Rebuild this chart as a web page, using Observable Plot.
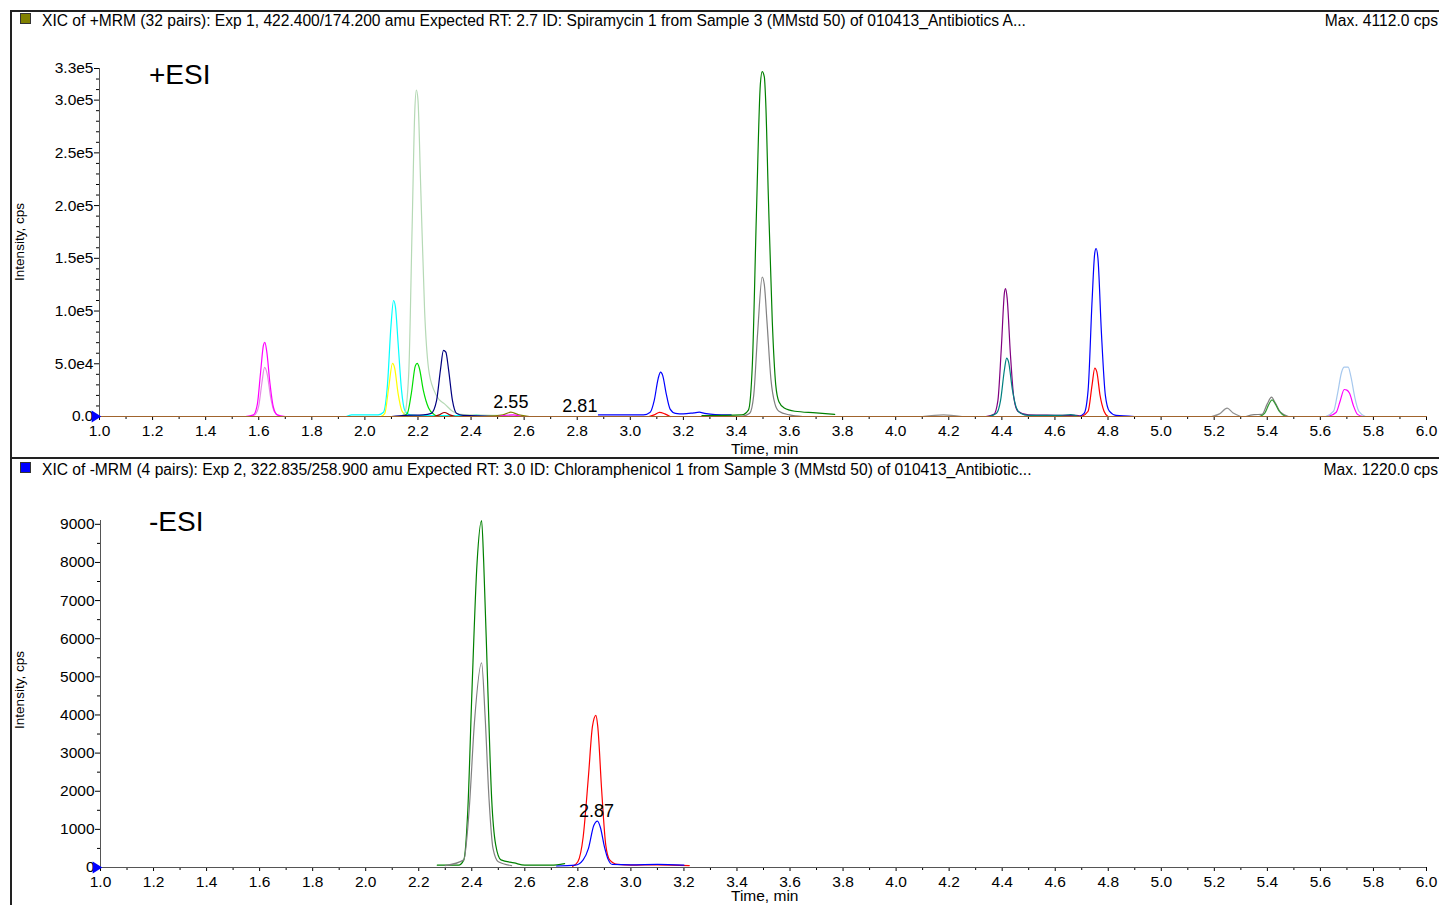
<!DOCTYPE html>
<html>
<head>
<meta charset="utf-8">
<script src="https://cdn.jsdelivr.net/npm/d3@7"></script>
<script src="https://cdn.jsdelivr.net/npm/@observablehq/plot@0.6"></script>
<style>
  html, body { margin: 0; padding: 0; background: #fff; }
  #page { position: relative; width: 1439px; height: 905px; overflow: hidden; background: #fff;
          font-family: "Liberation Sans", Arial, sans-serif; color: #000; }
  .abs { position: absolute; white-space: nowrap; }
  .hdr { font-size: 15.6px; line-height: 17px; }
  .sq { position: absolute; width: 9px; height: 9px; border: 1px solid #333; }
  .rot { transform: translate(-50%, -50%) rotate(-90deg); font-size: 13.5px; }
  svg { position: absolute; left: 0; overflow: visible; }
</style>
</head>
<body>
<div id="page">
  <div class="abs" style="left:10px;top:10px;width:2px;height:895px;background:#222"></div>
  <div class="abs" style="left:10px;top:10px;width:1429px;height:2px;background:#222"></div>
  <div class="abs" style="left:10px;top:457px;width:1429px;height:2px;background:#222"></div>

  <div class="sq" style="left:20px;top:13px;background:#808000"></div>
  <div class="abs hdr" id="title1" style="left:42px;top:12px">XIC of +MRM (32 pairs): Exp 1, 422.400/174.200 amu Expected RT: 2.7 ID: Spiramycin 1 from Sample 3 (MMstd 50) of 010413_Antibiotics A...</div>
  <div class="abs hdr" style="right:1px;top:12px">Max. 4112.0 cps</div>

  <div class="sq" style="left:20px;top:462px;background:#0000ff"></div>
  <div class="abs hdr" id="title2" style="left:42px;top:461px">XIC of -MRM (4 pairs): Exp 2, 322.835/258.900 amu Expected RT: 3.0 ID: Chloramphenicol 1 from Sample 3 (MMstd 50) of 010413_Antibiotic...</div>
  <div class="abs hdr" style="right:1px;top:461px">Max. 1220.0 cps</div>

  <div class="abs" style="left:149px;top:59px;font-size:28px;line-height:32px">+ESI</div>
  <div class="abs" style="left:149px;top:506px;font-size:28px;line-height:32px">-ESI</div>

  <div class="abs rot" style="left:19px;top:242px">Intensity, cps</div>
  <div class="abs rot" style="left:19px;top:690px">Intensity, cps</div>

  <div class="abs" style="left:731px;top:440px;font-size:15.5px;line-height:18px">Time, min</div>
  <div class="abs" style="left:731px;top:887px;font-size:15.5px;line-height:18px">Time, min</div>

  <div id="top"></div>
  <div id="bottom"></div>
</div>
<script>
// ---------- axis ticks ----------
const xTickLabels = [1.0, 1.2, 1.4, 1.6, 1.8, 2.0, 2.2, 2.4, 2.6, 2.8, 3.0, 3.2, 3.4, 3.6, 3.8, 4.0, 4.2, 4.4, 4.6, 4.8, 5.0, 5.2, 5.4, 5.6, 5.8, 6.0];
const xMinorTicks = [1.1, 1.3, 1.5, 1.7, 1.9, 2.1, 2.3, 2.5, 2.7, 2.9, 3.1, 3.3, 3.5, 3.7, 3.9, 4.1, 4.3, 4.5, 4.7, 4.9, 5.1, 5.3, 5.5, 5.7, 5.9];
const yTopTicks = [0, 50000, 100000, 150000, 200000, 250000, 300000, 330000];
const yTopMinor = [10000, 20000, 30000, 40000, 60000, 70000, 80000, 90000, 110000, 120000, 130000, 140000, 160000, 170000, 180000, 190000, 210000, 220000, 230000, 240000, 260000, 270000, 280000, 290000, 310000, 320000];
const yBotTicks = [0, 1000, 2000, 3000, 4000, 5000, 6000, 7000, 8000, 9000];
const yBotMinor = [500, 1500, 2500, 3500, 4500, 5500, 6500, 7500, 8500];

// ---------- +ESI traces: [time (min), intensity (cps)] ----------
const magenta162 = [[1.55,0],[1.58,1500],[1.595,12000],[1.607,42000],[1.618,68000],[1.623,70300],[1.63,62000],[1.642,32000],[1.655,9000],[1.67,1500],[1.70,0]];
const plum162 = [[1.56,0],[1.585,1500],[1.60,10000],[1.612,32000],[1.622,46500],[1.632,40000],[1.645,18000],[1.66,4000],[1.68,0]];
const cyan211 = [[1.93,0],[1.95,1500],[2.05,1500],[2.07,4000],[2.085,30000],[2.098,85000],[2.108,110000],[2.115,104000],[2.125,70000],[2.138,25000],[2.15,6000],[2.17,1500],[2.20,800],[2.40,800],[2.42,1500],[2.44,500],[2.50,0]];
const yellow210 = [[2.06,0],[2.075,3000],[2.09,28000],[2.104,50300],[2.112,46000],[2.125,22000],[2.14,5000],[2.16,0]];
const paleGreen219 = [[2.13,0],[2.15,3000],[2.165,40000],[2.178,180000],[2.188,290000],[2.194,309600],[2.20,300000],[2.21,220000],[2.225,100000],[2.24,45000],[2.26,25000],[2.28,16000],[2.30,12000],[2.33,5000],[2.36,2000],[2.50,1000],[2.60,0]];
const green219 = [[2.14,0],[2.16,3000],[2.175,22000],[2.19,48000],[2.197,50300],[2.205,46000],[2.22,25000],[2.24,8000],[2.26,2000],[2.28,0]];
const navy230 = [[2.10,0],[2.15,1000],[2.22,1500],[2.25,3000],[2.27,15000],[2.285,45000],[2.296,62700],[2.305,61000],[2.315,45000],[2.33,15000],[2.345,3000],[2.37,1000],[2.50,0]];
const darkRed230 = [[2.26,0],[2.28,1500],[2.30,3800],[2.32,1500],[2.34,0]];
const olive255 = [[2.45,0],[2.52,1500],[2.55,4112],[2.58,1500],[2.62,0]];
const magenta255 = [[2.50,0],[2.53,1200],[2.56,1500],[2.59,0]];
const blue311 = [[2.88,1500],[3.05,1500],[3.075,4000],[3.09,15000],[3.105,36000],[3.114,42100],[3.122,39000],[3.135,22000],[3.15,7000],[3.17,3000],[3.20,2500],[3.24,3500],[3.26,4100],[3.28,3000],[3.32,1800],[3.38,1500]];
const red311 = [[3.07,0],[3.09,1500],[3.11,4000],[3.13,2500],[3.15,0]];
const darkGreen350 = [[3.27,800],[3.42,1500],[3.445,6000],[3.46,50000],[3.475,190000],[3.49,315000],[3.497,327000],[3.505,322000],[3.51,300000],[3.52,210000],[3.535,90000],[3.548,30000],[3.56,14000],[3.58,8000],[3.62,5000],[3.70,3500],[3.77,2000]];
const gray350 = [[3.42,0],[3.45,3000],[3.465,20000],[3.48,80000],[3.497,132300],[3.505,125000],[3.515,90000],[3.53,35000],[3.545,12000],[3.56,5000],[3.60,1500],[3.65,0]];
const bump418 = [[4.10,0],[4.18,1500],[4.25,0]];
const purple441 = [[4.34,0],[4.37,2000],[4.385,15000],[4.398,65000],[4.41,118000],[4.414,121300],[4.42,112000],[4.432,60000],[4.445,18000],[4.46,5000],[4.50,1500],[4.60,1200],[4.68,1000],[4.70,0]];
const teal442 = [[4.35,0],[4.38,3000],[4.395,15000],[4.41,45000],[4.418,55400],[4.425,52000],[4.44,25000],[4.455,8000],[4.47,3000],[4.50,1000],[4.62,1000],[4.66,1800],[4.69,0]];
const blue475 = [[4.69,0],[4.71,3000],[4.725,25000],[4.74,110000],[4.75,155000],[4.755,159300],[4.762,150000],[4.775,80000],[4.79,20000],[4.805,5000],[4.83,1000],[4.90,0]];
const red475 = [[4.70,0],[4.725,5000],[4.74,30000],[4.75,45900],[4.758,42000],[4.77,20000],[4.785,5000],[4.80,0]];
const gray525 = [[5.19,0],[5.22,2500],[5.249,7900],[5.27,3500],[5.30,0]];
const gray542 = [[5.32,0],[5.35,1800],[5.38,2000],[5.40,12000],[5.416,18300],[5.43,13000],[5.45,4000],[5.48,0]];
const green542 = [[5.37,0],[5.39,3000],[5.405,11000],[5.418,15800],[5.43,12000],[5.445,5000],[5.47,0]];
const lightBlue570 = [[5.62,0],[5.65,5000],[5.665,22000],[5.68,42000],[5.69,46800],[5.705,46800],[5.715,38000],[5.73,18000],[5.745,5000],[5.77,0]];
const magenta570 = [[5.63,0],[5.66,4000],[5.675,15000],[5.69,25600],[5.70,25000],[5.71,22000],[5.725,10000],[5.74,2000],[5.76,0]];
const baselineTop = [[1.0,0],[6.0,0]];

// ---------- -ESI traces ----------
const green243 = [[2.27,60],[2.35,60],[2.37,200],[2.385,1500],[2.40,4500],[2.42,8000],[2.437,9100],[2.445,8000],[2.46,4800],[2.475,1800],[2.49,600],[2.51,200],[2.56,120],[2.60,60],[2.70,60],[2.75,100]];
const gray243 = [[2.30,50],[2.37,200],[2.39,1500],[2.41,3800],[2.437,5370],[2.45,4000],[2.465,1800],[2.48,500],[2.50,150],[2.55,50]];
const red287 = [[2.78,30],[2.80,150],[2.82,800],[2.84,2400],[2.855,3700],[2.868,3990],[2.875,3700],[2.89,2000],[2.905,600],[2.92,200],[2.95,80],[3.00,60],[3.10,70],[3.22,50]];
const blue287 = [[2.72,40],[2.79,60],[2.82,200],[2.84,500],[2.86,1100],[2.874,1215],[2.885,1050],[2.90,550],[2.915,200],[2.93,80],[3.00,70],[3.10,80],[3.20,60]];

// ---------- labels ----------
const topPeakLabels = [{t: 2.55, I: 4112, label: "2.55"}, {t: 2.81, I: 0, label: "2.81"}];
const botPeakLabels = [{t: 2.87, I: 1215, label: "2.87"}];

const topTraces = [
  [plum162, "#e58be5"], [magenta162, "#ff00ff"], [cyan211, "#00ffff"], [yellow210, "#ffff00"],
  [paleGreen219, "#b5d9b5"], [green219, "#00dd00"], [navy230, "#000080"], [darkRed230, "#a00000"],
  [olive255, "#808000"], [magenta255, "#ff00ff"], [blue311, "#0000ff"], [red311, "#ff0000"],
  [darkGreen350, "#008000"], [gray350, "#808080"], [bump418, "#909090"], [purple441, "#800080"],
  [teal442, "#008080"], [blue475, "#0000ff"], [red475, "#ff0000"], [gray525, "#909090"],
  [gray542, "#808080"], [green542, "#339933"], [lightBlue570, "#a6c8ee"], [magenta570, "#ff00ff"],
  [baselineTop, "#a0642d"]
];
const botTraces = [[green243, "#008000"], [gray243, "#808080"], [red287, "#ff0000"], [blue287, "#0000ff"]];

const rightTriangle = {
  draw(context, size) {
    const s = Math.sqrt(size) * 0.9;
    context.moveTo(s * 0.6, 0);
    context.lineTo(-s * 0.6, -s * 0.75);
    context.lineTo(-s * 0.6, s * 0.75);
    context.closePath();
  }
};

const fmtTop = v => v === 0 ? "0.0" : d3.format(".1e")(v).replace("e+", "e");

function lineMarks(traces) {
  return traces.map(([pts, color]) =>
    Plot.line(pts, {x: d => d[0], y: d => d[1], stroke: color, strokeWidth: 1.2, curve: "monotone-x"}));
}

function chart({yDomain, yTicks, yMinor, yFmt, traces, labels, marginLeft, marginTop, marginBottom, height}) {
  return Plot.plot({
    width: 1439, height, marginLeft, marginRight: 13, marginTop, marginBottom,
    x: {domain: [1, 6]},
    y: {domain: yDomain},
    style: {fontFamily: "Liberation Sans, Arial, sans-serif", fontSize: "15.5px", color: "#000", background: "transparent", overflow: "visible"},
    marks: [
      Plot.axisX({ticks: xMinorTicks, tickSize: 3, tickFormat: () => "", label: null}),
      Plot.axisX({ticks: xTickLabels, tickSize: 4, tickPadding: 4, tickFormat: d3.format(".1f"), label: null}),
      Plot.axisY({ticks: yMinor, tickSize: 3, tickFormat: () => "", label: null}),
      Plot.axisY({ticks: yTicks, tickSize: 5, tickPadding: 1, tickFormat: yFmt, label: null}),
      Plot.ruleX([1], {y1: 0, y2: yDomain[1], stroke: "#555"}),
      Plot.ruleY([0], {x1: 1, x2: 6, stroke: "#555"}),
      ...lineMarks(traces),
      Plot.text(labels, {x: "t", y: "I", text: "label", dy: -10, fontSize: 18, fill: "#000"}),
      Plot.dot([[1, 0]], {x: d => d[0], y: d => d[1], symbol: rightTriangle, r: 5, fill: "#0000ff", stroke: "none", dx: -3})
    ]
  });
}

const topSvg = chart({
  yDomain: [0, 330000], yTicks: yTopTicks, yMinor: yTopMinor, yFmt: fmtTop,
  traces: topTraces, labels: topPeakLabels, marginLeft: 99, marginTop: 28, marginBottom: 44, height: 420
});
topSvg.style.top = "40px";
document.getElementById("top").appendChild(topSvg);

const botSvg = chart({
  yDomain: [0, 9100], yTicks: yBotTicks, yMinor: yBotMinor, yFmt: d3.format("d"),
  traces: botTraces, labels: botPeakLabels, marginLeft: 100, marginTop: 40, marginBottom: 38, height: 425
});
botSvg.style.top = "480px";
document.getElementById("bottom").appendChild(botSvg);
</script>
</body>
</html>
